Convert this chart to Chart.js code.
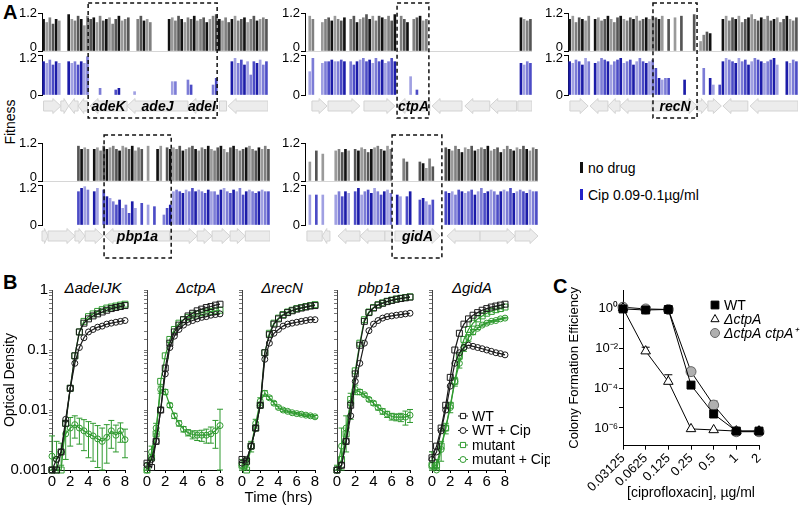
<!DOCTYPE html>
<html>
<head>
<meta charset="utf-8">
<title>Fitness, growth and colony formation</title>
<script src="https://cdn.jsdelivr.net/npm/chart.js@4.4.1/dist/chart.umd.min.js"></script>
<style>
  body { margin: 0; width: 800px; height: 518px; position: relative; overflow: hidden; background: #fff;
         font-family: "Liberation Sans", Arial, sans-serif; color: #000; }
  canvas { position: absolute; }
  .t { position: absolute; white-space: nowrap; line-height: 1; }
  .letter { font-weight: bold; font-size: 20px; }
  .rot { transform: translate(-50%, -50%) rotate(-90deg); }
  .sub { font-style: italic; font-size: 15px; transform: translate(-50%, -50%); }
  .key { font-size: 14px; transform: translateY(-50%); }
  .swatch { position: absolute; width: 3px; height: 11px; }
</style>
</head>
<body>
<div class="t letter" style="left:3px;top:2px">A</div>
<div class="t rot" style="left:10px;top:122px;font-size:14px">Fitness</div>
<div class="swatch" style="left:580px;top:162px;background:#111"></div>
<div class="t key" style="left:588px;top:168px">no drug</div>
<div class="swatch" style="left:580px;top:189px;background:#2323c8"></div>
<div class="t key" style="left:588px;top:195px">Cip 0.09-0.1µg/ml</div>

<div class="t letter" style="left:3px;top:272px">B</div>
<div class="t sub" style="left:93px;top:287px">ΔadeIJK</div>
<div class="t sub" style="left:196px;top:287px">ΔctpA</div>
<div class="t sub" style="left:282px;top:287px">ΔrecN</div>
<div class="t sub" style="left:379px;top:287px">pbp1a</div>
<div class="t sub" style="left:472px;top:287px">ΔgidA</div>

<div class="t letter" style="left:553px;top:276px">C</div>

<script>
// ---------- panel A: Tn-seq fitness per insertion site (72 slots per window) ----------
const fitBlack1 = [
  1.0, 0.9, 1.05, 0.85, 1.0, 0.95, 0, 0, 1.15, 1.0, 0.95, 1.1,
  1.0, 0.8, 1.1, 1.0, 1.05, 0.9, 1.1, 0.95, 1.0, 1.05, 0.85, 1.0,
  1.1, 0.95, 1.0, 1.05, 0, 0, 1.0, 1.1, 0.95, 1.0, 0.9, 0,
  0, 0, 0, 0, 1.0, 1.05, 0.95, 1.1, 1.0, 0.9, 1.05, 1.0,
  1.1, 0.95, 1.0, 1.05, 0.9, 1.0, 1.1, 1.15, 1.0, 0.95, 1.05, 0.9,
  1.0, 1.1, 0.95, 1.0, 1.05, 0.9, 1.0, 1.1, 0.95, 1.0, 1.05, 1.0
];
const fitBlue1 = [
  1.0, 0.95, 1.05, 0.9, 1.0, 0.95, 0, 0, 1.0, 0.95, 1.0, 0.9,
  1.0, 0.95, 1.15, 0, 0, 0, 0.2, 0, 0, 0, 0, 0.15,
  0.2, 0, 0, 0, 0, 0.1, 0, 0, 0, 0, 0, 0,
  0, 0, 0, 0, 0, 0.4, 0.4, 0, 0, 0, 0.45, 0.3,
  0, 0, 0, 0, 0, 0, 0.3, 0.5, 0, 0, 0, 0,
  1.0, 1.1, 0.95, 1.05, 0.9, 1.0, 0.6, 1.0, 0.95, 1.05, 0.9, 1.0
];
const fitBlack2 = [
  0, 1.1, 1.0, 0, 0, 0.9, 1.0, 1.05, 0.95, 1.1, 1.0, 0.95,
  1.05, 0, 1.0, 1.1, 0.9, 1.0, 1.05, 1.15, 1.0, 1.1, 0.95, 1.1,
  1.05, 1.0, 1.1, 0.95, 1.15, 0, 1.1, 1.0, 0.9, 0, 1.0, 1.05,
  1.1, 0.95, 1.0, 0, 0, 0, 0, 0, 0, 0, 0, 0,
  0, 0, 0, 0, 0, 0, 0, 0, 0, 0, 0, 0,
  0, 0, 0, 0, 0, 0, 0, 0, 1.05, 1.0, 0.95, 1.0
];
const fitBlue2 = [
  0, 0.7, 1.1, 0, 0, 0.95, 1.0, 1.0, 1.05, 1.0, 1.0, 1.05,
  1.0, 0, 1.0, 0.9, 1.0, 1.05, 1.1, 1.0, 1.05, 0.95, 1.1, 1.0,
  1.05, 0.95, 1.0, 1.1, 1.0, 0, 0, 0, 0, 0.55, 0, 0.15,
  0, 0, 0, 0, 0, 0, 0, 0, 0, 0, 0, 0,
  0, 0, 0, 0, 0, 0, 0, 0, 0, 0, 0, 0,
  0, 0, 0, 0, 0, 0, 0, 0, 0.95, 0.9, 1.0, 0.95
];
const fitBlack3 = [
  1.0, 1.1, 0.9, 1.05, 1.0, 0.95, 1.1, 0, 1.0, 1.05, 0.95, 1.0,
  1.1, 1.0, 0.9, 1.05, 1.1, 1.0, 0.95, 1.05, 1.0, 1.1, 0.95, 1.0,
  1.05, 1.0, 1.1, 1.05, 1.0, 1.1, 0, 1.0, 0, 1.05, 0, 1.1,
  0, 0, 0, 1.15, 0, 0.3, 0.5, 0.6, 0.55, 0, 0, 0,
  1.0, 1.1, 0.95, 1.05, 1.0, 1.1, 0.9, 1.0, 1.05, 1.15, 1.0, 0.95,
  1.05, 1.0, 1.1, 0.95, 1.0, 1.05, 0.9, 1.0, 1.1, 1.0, 0.95, 1.05
];
const fitBlue3 = [
  1.0, 0.95, 1.05, 1.0, 0.9, 1.1, 1.0, 0, 0.95, 1.0, 1.1, 1.05,
  1.0, 0.9, 1.0, 1.05, 1.1, 0.95, 1.0, 1.05, 0.9, 1.0, 1.1, 1.0,
  0.95, 1.0, 1.05, 0.8, 0.5, 0.45, 0.5, 0.5, 0, 0, 0, 0,
  0.45, 0, 0, 0, 0, 0, 0.8, 0, 0.5, 0.3, 0, 0.3,
  1.0, 1.1, 1.05, 1.0, 0.95, 1.1, 1.0, 1.05, 0.9, 1.0, 1.1, 1.05,
  1.0, 0.95, 1.0, 1.05, 1.1, 0.9, 0, 0, 1.0, 0.95, 1.05, 1.0
];
const fitBlack4 = [
  0, 0, 0, 0, 0, 0, 0, 0, 0, 0, 0, 1.1,
  1.0, 1.05, 1.0, 0, 1.0, 1.05, 0.95, 1.1, 1.0, 1.05, 1.1, 1.0,
  0.95, 1.1, 1.05, 1.0, 1.1, 0.95, 1.05, 1.0, 0, 1.1, 0, 0,
  1.0, 1.1, 0, 1.05, 1.0, 1.05, 1.0, 1.1, 0.95, 1.0, 1.05, 1.1,
  1.0, 0.95, 1.05, 1.0, 1.1, 1.0, 0.95, 1.05, 1.1, 1.0, 0.9, 1.05,
  1.1, 1.0, 0.95, 1.0, 1.05, 1.1, 1.0, 0.95, 1.05, 1.0, 1.1, 1.0
];
const fitBlue4 = [
  0, 0, 0, 0, 0, 0, 0, 0, 0, 0, 0, 1.0,
  1.1, 1.15, 1.05, 0, 1.0, 1.1, 0, 1.05, 0.85, 0.8, 0.7, 0.6,
  0.75, 0.5, 0.6, 0.35, 0.7, 0.5, 0, 0.65, 0, 0.6, 0, 0.55,
  0, 0, 0.3, 0.5, 0.6, 1.0, 1.05, 1.0, 0.95, 1.05, 1.0, 1.1,
  1.0, 1.05, 1.0, 0.95, 1.05, 1.0, 1.0, 0.9, 1.05, 1.1, 1.0, 0.95,
  1.05, 1.0, 1.1, 0.9, 1.0, 1.05, 1.0, 0.95, 1.0, 1.05, 1.0, 1.0
];
const fitBlack5 = [
  0, 0.6, 0, 0.95, 0, 0.85, 0, 0, 0, 0.95, 1.0, 0.9,
  1.0, 0.95, 0, 1.0, 0.95, 1.05, 1.0, 0.9, 1.0, 1.05, 1.1, 1.0,
  0.95, 1.1, 1.0, 0, 0, 0, 0.7, 0.6, 0, 0, 0, 0.6,
  0.55, 0.4, 0.7, 0.45, 0, 0, 0, 1.05, 1.0, 0.95, 1.1, 1.0,
  0.9, 1.05, 1.0, 1.1, 0.95, 1.0, 1.05, 1.0, 1.1, 0.95, 1.0, 1.05,
  0.9, 1.0, 1.1, 1.0, 0.95, 1.05, 1.0, 1.1, 1.0, 0.95, 1.05, 1.0
];
const fitBlue5 = [
  0, 0.9, 0, 0.9, 0, 0.9, 0, 0, 0, 0.9, 1.0, 0.85,
  1.0, 0.95, 0, 1.0, 1.1, 0.9, 1.0, 1.05, 0.95, 1.1, 1.0, 0.9,
  1.0, 1.05, 0.95, 0, 0.9, 0.85, 0, 0.85, 1.0, 0, 0, 0.75,
  0.8, 0.7, 0.6, 0.75, 0, 0, 0, 1.0, 0.95, 1.0, 0.9, 1.05,
  1.0, 0.95, 1.0, 1.05, 0.9, 1.0, 1.1, 0.95, 1.0, 1.05, 1.0, 0.9,
  1.0, 1.05, 1.0, 1.1, 0.95, 1.0, 1.05, 1.0, 0.95, 1.05, 1.0, 1.0
];

// genes: [start slot, end slot, direction, name]
const genes1 = [[0.5, 6, 'r'], [6, 8.5, 'r'], [8.5, 11.5, 'l'], [11.5, 14.5, 'l'], [15.3, 27.1, 'l', 'adeK'],
  [27.1, 46.5, 'l', 'adeJ'], [46.5, 55.4, 'l', 'adeI'], [56.5, 58.8, 'n'], [59.3, 72, 'l']];
const genes2 = [[2.2, 7, 'r'], [7.3, 17.4, 'r'], [18.7, 28.5, 'r'], [29.2, 39.6, 'l', 'ctpA'], [40.3, 49.8, 'l'],
  [50.7, 58.6, 'l'], [58.6, 67.1, 'l'], [67.5, 72, 'n']];
const genes3 = [[0.6, 6.3, 'r'], [6.9, 12.5, 'l'], [12.5, 16.3, 'l'], [16.3, 26.3, 'l'], [26.6, 40.4, 'r', 'recN'],
  [40.4, 43.8, 'r'], [43.8, 48, 'r'], [48.5, 56.3, 'l'], [57, 72, 'l']];
const genes4 = [[0, 1.9, 'r'], [1.9, 10.4, 'r'], [10.4, 13.6, 'r'], [13.6, 19.3, 'r'], [19.9, 40.4, 'l', 'pbp1a'],
  [40.4, 49, 'r'], [49, 53.7, 'r'], [53.7, 59.4, 'r'], [59.4, 64.2, 'r'], [64.2, 72, 'n']];
const genes5 = [[0.6, 5.3, 'n'], [5.3, 7.7, 'l'], [10.2, 17, 'l'], [17, 24.7, 'l'], [24.7, 26.9, 'n'],
  [27.8, 41.7, 'r', 'gidA'], [43.9, 54.1, 'l'], [54.1, 64.9, 'r'], [64.9, 72, 'r']];

// ---------- panel B: growth curves ----------
const hours = [0, 0.5, 1, 1.5, 2, 2.5, 3, 3.5, 4, 4.5, 5, 5.5, 6, 6.5, 7, 7.5, 8];

const wtAde = [0.001, 0.001, 0.002, 0.006, 0.023, 0.08, 0.2, 0.28, 0.33, 0.37, 0.4, 0.43, 0.46, 0.49, 0.51, 0.53, 0.55];
const wtCipAde = [0.001, 0.0015, 0.002, 0.007, 0.023, 0.06, 0.11, 0.16, 0.2, 0.22, 0.24, 0.25, 0.27, 0.28, 0.29, 0.3, 0.31];
const mutAde = [0.001, 0.001, 0.001, 0.006, 0.023, 0.08, 0.2, 0.3, 0.36, 0.4, 0.44, 0.47, 0.5, 0.52, 0.54, 0.56, 0.58];
const mutCipAde = [0.0017, 0.0015, 0.002, 0.004, 0.005, 0.0057, 0.005, 0.0045, 0.004, 0.0037, 0.0033, 0.003, 0.0035, 0.0045, 0.0038, 0.0045, 0.0032];
const mutCipAdeSd = [0.002, 0.0015, 0.0008, 0.0025, 0.0025, 0.0023, 0.0023, 0.0024, 0.0024, 0.0023, 0.0022, 0.002, 0.0022, 0.0022, 0.0018, 0.0016, 0.0016];

const wtCtp = [0.0013, 0.0011, 0.003, 0.01, 0.05, 0.13, 0.2, 0.26, 0.32, 0.37, 0.41, 0.45, 0.48, 0.51, 0.53, 0.56, 0.58];
const wtCipCtp = [0.0012, 0.0015, 0.003, 0.01, 0.04, 0.11, 0.17, 0.22, 0.26, 0.29, 0.31, 0.33, 0.35, 0.36, 0.38, 0.39, 0.4];
const mutCtp = [0.001, 0.0016, 0.004, 0.03, 0.08, 0.15, 0.22, 0.28, 0.32, 0.35, 0.38, 0.4, 0.42, 0.43, 0.44, 0.45, 0.46];
const mutCipCtp = [0.001, 0.002, 0.005, 0.022, 0.02, 0.012, 0.008, 0.006, 0.0048, 0.0042, 0.0039, 0.0038, 0.0038, 0.0038, 0.004, 0.0045, 0.0055];
const mutCipCtpSd = [0.0003, 0.0005, 0.001, 0.003, 0.002, 0.001, 0.0008, 0.0006, 0.0005, 0.0005, 0.0006, 0.0007, 0.0008, 0.001, 0.0012, 0.0022, 0.0048];

const wtRec = [0.0015, 0.0014, 0.0025, 0.005, 0.012, 0.09, 0.18, 0.27, 0.33, 0.38, 0.42, 0.45, 0.48, 0.5, 0.52, 0.54, 0.55];
const wtCipRec = [0.0013, 0.0015, 0.0025, 0.005, 0.012, 0.07, 0.13, 0.19, 0.22, 0.25, 0.27, 0.28, 0.29, 0.3, 0.31, 0.32, 0.32];
const mutRec = [0.0012, 0.001, 0.0025, 0.005, 0.012, 0.09, 0.19, 0.28, 0.34, 0.39, 0.43, 0.46, 0.49, 0.51, 0.53, 0.55, 0.57];
const mutCipRec = [0.0012, 0.0013, 0.0025, 0.006, 0.014, 0.019, 0.016, 0.013, 0.011, 0.01, 0.0095, 0.009, 0.0087, 0.0085, 0.0082, 0.008, 0.0077];
const mutCipRecSd = [0.0003, 0.0003, 0.0005, 0.001, 0.002, 0.002, 0.001, 0.0008, 0.0006, 0.0005, 0.0005, 0.0004, 0.0004, 0.0004, 0.0004, 0.0004, 0.0004];

const wtPbp = [0.001, 0.0012, 0.003, 0.012, 0.04, 0.12, 0.3, 0.42, 0.5, 0.56, 0.6, 0.64, 0.67, 0.7, 0.72, 0.74, 0.76];
const wtCipPbp = [0.001, 0.0012, 0.003, 0.008, 0.03, 0.06, 0.13, 0.21, 0.27, 0.31, 0.34, 0.36, 0.37, 0.38, 0.39, 0.4, 0.41];
const mutPbp = [0.001, 0.0015, 0.004, 0.015, 0.045, 0.13, 0.32, 0.43, 0.51, 0.57, 0.61, 0.65, 0.68, 0.71, 0.73, 0.75, 0.77];
const mutCipPbp = [0.001, 0.0025, 0.005, 0.013, 0.022, 0.02, 0.018, 0.015, 0.013, 0.011, 0.0095, 0.0085, 0.0078, 0.0076, 0.0076, 0.0076, 0.0082];
const mutCipPbpSd = [0.0002, 0.0025, 0.003, 0.006, 0.004, 0.002, 0.001, 0.001, 0.001, 0.001, 0.001, 0.001, 0.001, 0.001, 0.0012, 0.002, 0.002];

const wtGid = [0.0016, 0.0025, 0.005, 0.012, 0.035, 0.1, 0.19, 0.27, 0.33, 0.38, 0.42, 0.46, 0.49, 0.52, 0.54, 0.56, 0.58];
const wtCipGid = [0.0015, 0.002, 0.0045, 0.01, 0.025, 0.06, 0.09, 0.11, 0.12, 0.115, 0.11, 0.105, 0.1, 0.095, 0.09, 0.087, 0.083];
const mutGid = [0.0012, 0.0012, 0.0025, 0.005, 0.012, 0.03, 0.08, 0.15, 0.22, 0.28, 0.33, 0.37, 0.41, 0.44, 0.47, 0.49, 0.52];
const mutCipGid = [0.0012, 0.001, 0.0022, 0.005, 0.011, 0.03, 0.06, 0.11, 0.16, 0.2, 0.23, 0.26, 0.28, 0.3, 0.31, 0.33, 0.34];
const mutCipGidSd = [0.0008, 0.0005, 0.0008, 0.001, 0.002, 0.005, 0.01, 0.015, 0.02, 0.02, 0.01, 0.01, 0.01, 0.01, 0.01, 0.01, 0.01];

// ---------- panel C: colony formation efficiency ----------
const cipConc = ['0.03125', '0.0625', '0.125', '0.25', '0.5', '1', '2'];
const cfeWT = [0.9, 0.8, 0.85, 1.4e-4, 5e-6, 7e-7, 7e-7];
const cfeWTErr = [0, 0.3, 0, 0, 3e-6, 0, 0];
const cfeCtpA = [1, 7e-3, 2.1e-4, 9e-7, 8e-7, 7e-7, 7e-7];
const cfeCtpAErr = [0, 4e-3, 2.5e-4, 0, 0, 0, 0];
const cfeComp = [1.1, 0.9, 0.85, 6.6e-4, 1.4e-5, 6.5e-7, 6.5e-7];
const cfeCompErr = [0, 0, 0, 3e-4, 8e-6, 0, 0];

Chart.defaults.font.family = "'Liberation Sans', Arial, Helvetica, sans-serif";
Chart.defaults.color = '#000';
Chart.defaults.animation = false;
Chart.defaults.plugins.legend.display = false;
Chart.defaults.plugins.tooltip.enabled = false;

function makeCanvas(left, top, w, h) {
  const c = document.createElement('canvas');
  c.width = w;
  c.height = h;
  c.style.left = left + 'px';
  c.style.top = top + 'px';
  c.style.width = w + 'px';
  c.style.height = h + 'px';
  document.body.appendChild(c);
  return c;
}

function drawMarker(ctx, style, x, y, r, fill, stroke) {
  ctx.beginPath();
  if (style === 'rect') {
    ctx.rect(x - r * 0.72, y - r * 0.72, r * 1.44, r * 1.44);
  } else if (style === 'triangle') {
    ctx.moveTo(x, y - r);
    ctx.lineTo(x + r * 0.9, y + r * 0.6);
    ctx.lineTo(x - r * 0.9, y + r * 0.6);
    ctx.closePath();
  } else {
    ctx.arc(x, y, r, 0, Math.PI * 2);
  }
  ctx.fillStyle = fill;
  ctx.fill();
  ctx.strokeStyle = stroke;
  ctx.lineWidth = 1;
  ctx.stroke();
}

// gene arrows and the dashed highlight box under/around a fitness window
const geneTrack = {
  id: 'geneTrack',
  afterDraw(chart, args, opts) {
    if (!opts.genes) return;
    const { ctx, chartArea } = chart;
    const x = chart.scales.x;
    const yc = chartArea.bottom + opts.offset;
    ctx.save();
    opts.genes.forEach(g => {
      const x1 = x.getPixelForValue(g[0]);
      const x2 = x.getPixelForValue(g[1]);
      const body = 5, head = 7.5;
      const hl = Math.min(8, (x2 - x1) * 0.6);
      ctx.beginPath();
      if (g[2] === 'r') {
        ctx.moveTo(x1, yc - body); ctx.lineTo(x2 - hl, yc - body); ctx.lineTo(x2 - hl, yc - head);
        ctx.lineTo(x2, yc); ctx.lineTo(x2 - hl, yc + head); ctx.lineTo(x2 - hl, yc + body); ctx.lineTo(x1, yc + body);
      } else if (g[2] === 'l') {
        ctx.moveTo(x2, yc - body); ctx.lineTo(x1 + hl, yc - body); ctx.lineTo(x1 + hl, yc - head);
        ctx.lineTo(x1, yc); ctx.lineTo(x1 + hl, yc + head); ctx.lineTo(x1 + hl, yc + body); ctx.lineTo(x2, yc + body);
      } else {
        ctx.rect(x1, yc - body, x2 - x1, body * 2);
      }
      ctx.closePath();
      ctx.fillStyle = '#ececec';
      ctx.fill();
      ctx.strokeStyle = '#d3d3d3';
      ctx.lineWidth = 1;
      ctx.stroke();
    });
    ctx.fillStyle = '#000';
    ctx.font = "italic bold 14px 'Liberation Sans', Arial, sans-serif";
    ctx.textAlign = 'center';
    ctx.textBaseline = 'middle';
    opts.genes.forEach(g => {
      if (g[3]) ctx.fillText(g[3], (x.getPixelForValue(g[0]) + x.getPixelForValue(g[1])) / 2, yc + 1);
    });
    const bx1 = x.getPixelForValue(opts.box[0]);
    const bx2 = x.getPixelForValue(opts.box[1]);
    ctx.setLineDash([4, 3]);
    ctx.strokeStyle = '#111';
    ctx.lineWidth = 1.5;
    ctx.strokeRect(bx1, chartArea.top - opts.boxTop, bx2 - bx1, chartArea.bottom - chartArea.top + opts.boxTop + opts.boxBottom);
    ctx.restore();
  }
};

const blackShades = ['#111111', '#555555', '#2a2a2a', '#808080', '#3c3c3c', '#9a9a9a', '#222222'];
const blueShades = ['#1c1ca8', '#4c4cc6', '#2d2db4', '#7c7cd6', '#3a3abd', '#a0a0e2', '#2222ae'];

// the two tracks sit close together, so their "0" and "1.2" labels are nudged apart
function trackAxis(weight, upper) {
  return {
    type: 'linear', position: 'left', stack: 'fit', stackWeight: weight,
    min: 0, max: 1.2,
    afterBuildTicks: s => { s.ticks = [{ value: 0 }, { value: 1.2 }]; },
    afterFit: s => { s.width = 32; },
    border: { color: '#000', width: 1 },
    grid: {
      drawOnChartArea: upper,
      color: c => (c.tick && c.tick.value === 0 ? '#d6d6d6' : 'rgba(0,0,0,0)'),
      tickColor: '#000', tickLength: 4
    },
    ticks: {
      font: { size: 13, lineHeight: 0.55 }, padding: 1, color: '#000',
      callback: v => {
        if (upper) return v === 0 ? ['0', ''] : '1.2';
        return v === 0 ? '0' : ['', '1.2'];
      }
    }
  };
}

function fitnessPanel(p) {
  const left = p.x0 - 32;
  const canvas = makeCanvas(left, p.top, p.x1 - left, p.height);
  const bars = vals => vals.map((v, i) => ({ x: i + 0.5, y: v })).filter(d => d.y > 0);
  const shade = list => c => list[(Math.floor(c.raw.x) * 5 + (Math.floor(c.raw.x) >> 2)) % list.length];
  new Chart(canvas, {
    type: 'bar',
    data: {
      datasets: [
        { data: bars(p.black), yAxisID: 'yBlack', backgroundColor: shade(blackShades) },
        { data: bars(p.blue), yAxisID: 'yBlue', backgroundColor: shade(blueShades) }
      ]
    },
    options: {
      responsive: false,
      devicePixelRatio: 1,
      datasets: { bar: { barThickness: 2, grouped: false, borderWidth: 0 } },
      layout: { padding: { top: p.padTop, bottom: p.padBottom, left: 0, right: 0 } },
      scales: {
        x: { type: 'linear', min: 0, max: 72, offset: false, display: false },
        yBlue: trackAxis(40, false),
        yGap: { type: 'linear', position: 'left', stack: 'fit', stackWeight: 4, display: false, min: 0, max: 1 },
        yBlack: trackAxis(38, true)
      },
      plugins: {
        geneTrack: { genes: p.genes, offset: 11, box: p.box, boxTop: p.boxTop, boxBottom: p.boxBottom }
      }
    },
    plugins: [geneTrack]
  });
}

fitnessPanel({ x0: 42, x1: 268, top: 0, height: 122, padTop: 13, padBottom: 27, boxTop: 10, boxBottom: 23,
  black: fitBlack1, blue: fitBlue1, genes: genes1, box: [14.7, 55.8] });
fitnessPanel({ x0: 305, x1: 532, top: 0, height: 122, padTop: 13, padBottom: 27, boxTop: 10, boxBottom: 23,
  black: fitBlack2, blue: fitBlue2, genes: genes2, box: [29.2, 39.3] });
fitnessPanel({ x0: 568, x1: 798, top: 0, height: 122, padTop: 13, padBottom: 27, boxTop: 10, boxBottom: 23,
  black: fitBlack3, blue: fitBlue3, genes: genes3, box: [26.6, 40.4] });
fitnessPanel({ x0: 42, x1: 270, top: 131, height: 131, padTop: 12, padBottom: 37, boxTop: 8, boxBottom: 33,
  black: fitBlack4, blue: fitBlue4, genes: genes4, box: [19.6, 40.8] });
fitnessPanel({ x0: 305, x1: 538, top: 131, height: 131, padTop: 12, padBottom: 37, boxTop: 8, boxBottom: 33,
  black: fitBlack5, blue: fitBlue5, genes: genes5, box: [26.9, 42.3] });

// error bars read from dataset.errs (same units as the data)
const errorBars = {
  id: 'errorBars',
  beforeDatasetsDraw(chart, args, opts) {
    const { ctx } = chart;
    const y = chart.scales.y;
    chart.data.datasets.forEach((ds, di) => {
      if (!ds.errs) return;
      const meta = chart.getDatasetMeta(di);
      ctx.save();
      ctx.strokeStyle = ds.borderColor;
      ctx.lineWidth = 1;
      meta.data.forEach((pt, i) => {
        const e = ds.errs[i];
        if (!e) return;
        const raw = ds.data[i];
        const v = typeof raw === 'object' ? raw.y : raw;
        const top = y.getPixelForValue(v + e);
        const bot = opts.upperOnly ? pt.y : y.getPixelForValue(Math.max(v - e, y.min));
        ctx.beginPath();
        ctx.moveTo(pt.x, top); ctx.lineTo(pt.x, bot);
        ctx.moveTo(pt.x - opts.cap, top); ctx.lineTo(pt.x + opts.cap, top);
        if (!opts.upperOnly) { ctx.moveTo(pt.x - opts.cap, bot); ctx.lineTo(pt.x + opts.cap, bot); }
        ctx.stroke();
      });
      ctx.restore();
    });
  }
};

// small key drawn inside the plot from the datasets themselves
const markerKey = {
  id: 'markerKey',
  afterDraw(chart, args, opts) {
    if (!opts.show) return;
    const { ctx, chartArea } = chart;
    ctx.save();
    chart.data.datasets.forEach((ds, i) => {
      const x = chartArea.left + opts.dx;
      const y = chartArea.top + opts.dy + i * opts.rowH;
      if (opts.line) {
        ctx.beginPath();
        ctx.moveTo(x - 5, y); ctx.lineTo(x + 5, y);
        ctx.strokeStyle = ds.borderColor; ctx.lineWidth = 1; ctx.stroke();
      }
      drawMarker(ctx, ds.pointStyle, x, y, opts.size * (ds.pointStyle === 'rect' ? 1.2 : 1),
        opts.line ? '#fff' : ds.pointBackgroundColor, ds.pointBorderColor);
      ctx.fillStyle = '#000';
      ctx.font = (ds.italic ? 'italic ' : '') + opts.fontSize + "px 'Liberation Sans', Arial, sans-serif";
      ctx.textAlign = 'left';
      ctx.textBaseline = 'middle';
      ctx.fillText(ds.label, x + opts.gap, y + 1);
    });
    ctx.restore();
  }
};

const inkBlack = '#1a1a1a';
const inkGreen = '#2f9a2f';

function growthPanel(p) {
  const axisW = p.first ? 52 : 12;
  const left = p.x0 - axisW;
  const canvas = makeCanvas(left, 280, axisW + 73 + p.rightPad, 238);
  const pts = vals => hours.map((h, i) => ({ x: h, y: vals[i] }));
  const sets = [
    { label: 'WT', data: pts(p.wt), borderColor: inkBlack, pointStyle: 'rect', pointRadius: 4.2 },
    { label: 'WT + Cip', data: pts(p.wtCip), borderColor: inkBlack, pointStyle: 'circle', pointRadius: 3 },
    { label: 'mutant', data: pts(p.mut), borderColor: inkGreen, pointStyle: 'rect', pointRadius: 4.2 },
    { label: 'mutant + Cip', data: pts(p.mutCip), borderColor: inkGreen, pointStyle: 'circle', pointRadius: 3, errs: p.sd }
  ].map(d => Object.assign({ borderWidth: 1.2, pointBorderWidth: 1, pointBorderColor: d.borderColor,
    pointBackgroundColor: 'rgba(255,255,255,0)', tension: 0, clip: false }, d));
  new Chart(canvas, {
    type: 'line',
    data: { datasets: sets },
    options: {
      responsive: false,
      devicePixelRatio: 1,
      layout: { padding: { top: 10, right: p.rightPad, left: 0, bottom: 0 } },
      scales: {
        x: {
          type: 'linear', min: 0, max: 8,
          afterFit: s => { s.height = 48; },
          border: { color: '#000' },
          grid: { drawOnChartArea: false, tickLength: 3, tickColor: '#000' },
          ticks: { stepSize: 2, font: { size: 15 }, padding: 0, autoSkip: false },
          title: { display: !!p.xTitle, text: p.xTitle, font: { size: 15 }, padding: { top: 4, bottom: 11 } }
        },
        y: {
          type: 'logarithmic', min: 0.001, max: 1,
          afterFit: s => { s.width = axisW; },
          border: { color: '#444' },
          grid: { drawOnChartArea: false, tickLength: 3, tickColor: '#777' },
          ticks: {
            autoSkip: false, font: { size: 15 }, padding: 1,
            callback: v => {
              if (!p.first) return '';
              const e = Math.log10(v);
              return Math.abs(e - Math.round(e)) < 1e-9 ? String(+v.toPrecision(1)) : '';
            }
          },
          title: { display: !!p.first, text: 'Optical Density', font: { size: 14 }, padding: { top: 2, bottom: 0 } }
        }
      },
      plugins: {
        errorBars: { cap: 3, upperOnly: false },
        markerKey: { show: !!p.key, dx: 31, dy: 126, rowH: 14.5, size: 3, gap: 9, fontSize: 14, line: true }
      }
    },
    plugins: [errorBars, markerKey]
  });
}

growthPanel({ x0: 52, first: true, rightPad: 6, wt: wtAde, wtCip: wtCipAde, mut: mutAde, mutCip: mutCipAde, sd: mutCipAdeSd });
growthPanel({ x0: 147, rightPad: 6, wt: wtCtp, wtCip: wtCipCtp, mut: mutCtp, mutCip: mutCipCtp, sd: mutCipCtpSd });
growthPanel({ x0: 242, rightPad: 6, xTitle: 'Time (hrs)', wt: wtRec, wtCip: wtCipRec, mut: mutRec, mutCip: mutCipRec, sd: mutCipRecSd });
growthPanel({ x0: 337, rightPad: 6, wt: wtPbp, wtCip: wtCipPbp, mut: mutPbp, mutCip: mutCipPbp, sd: mutCipPbpSd });
growthPanel({ x0: 432, rightPad: 45, key: true, wt: wtGid, wtCip: wtCipGid, mut: mutGid, mutCip: mutCipGid, sd: mutCipGidSd });

// ---------- panel C ----------
const supDigits = { '-': '⁻', '0': '⁰', '1': '¹', '2': '²', '3': '³', '4': '⁴', '5': '⁵', '6': '⁶', '7': '⁷', '8': '⁸', '9': '⁹' };
const sup = n => String(n).split('').map(ch => supDigits[ch]).join('');

new Chart(makeCanvas(565, 280, 235, 238), {
  type: 'line',
  data: {
    labels: cipConc,
    datasets: [
      { label: 'WT', data: cfeWT, errs: cfeWTErr, pointStyle: 'rect', pointRadius: 5.6,
        pointBackgroundColor: '#000', pointBorderColor: '#000' },
      { label: 'ΔctpA', data: cfeCtpA, errs: cfeCtpAErr, italic: true, pointStyle: 'triangle', pointRadius: 5.5,
        pointBackgroundColor: '#fff', pointBorderColor: '#000' },
      { label: 'ΔctpA ctpA⁺', data: cfeComp, errs: cfeCompErr, italic: true, pointStyle: 'circle', pointRadius: 5,
        pointBackgroundColor: '#b0b0b0', pointBorderColor: '#666' }
    ].map(d => Object.assign({ borderColor: '#000', borderWidth: 1, pointBorderWidth: 1, tension: 0, clip: false }, d))
  },
  options: {
    responsive: false,
    devicePixelRatio: 1,
    layout: { padding: { top: 10, right: 41, left: 0, bottom: 0 } },
    scales: {
      x: {
        type: 'category', offset: false,
        afterFit: s => { s.height = 72.3; },
        border: { color: '#000' },
        grid: { drawOnChartArea: false, tickLength: 4, tickColor: '#000' },
        ticks: { minRotation: 45, maxRotation: 45, autoSkip: false, font: { size: 13 }, padding: 1 },
        title: { display: true, text: '[ciprofloxacin], µg/ml', font: { size: 14 }, padding: { top: 2, bottom: 16 } }
      },
      y: {
        type: 'logarithmic', min: 1.3e-7, max: 8,
        afterBuildTicks: s => { s.ticks = [1e-6, 1e-5, 1e-4, 1e-3, 1e-2, 1e-1, 1].map(v => ({ value: v })); },
        afterFit: s => { s.width = 58; },
        border: { color: '#000' },
        grid: { drawOnChartArea: false, tickLength: 4, tickColor: '#000' },
        ticks: {
          autoSkip: false, font: { size: 13 }, padding: 1,
          callback: v => {
            const e = Math.round(Math.log10(v));
            return e % 2 === 0 ? '10' + sup(e) : '';
          }
        },
        title: { display: true, text: 'Colony Formation Efficiency', font: { size: 13 }, padding: { top: 2, bottom: 2 } }
      }
    },
    plugins: {
      errorBars: { cap: 4, upperOnly: true },
      markerKey: { show: true, dx: 92, dy: 15, rowH: 14, size: 4.5, gap: 9, fontSize: 14, line: false }
    }
  },
  plugins: [errorBars, markerKey]
});
</script>
</body>
</html>
